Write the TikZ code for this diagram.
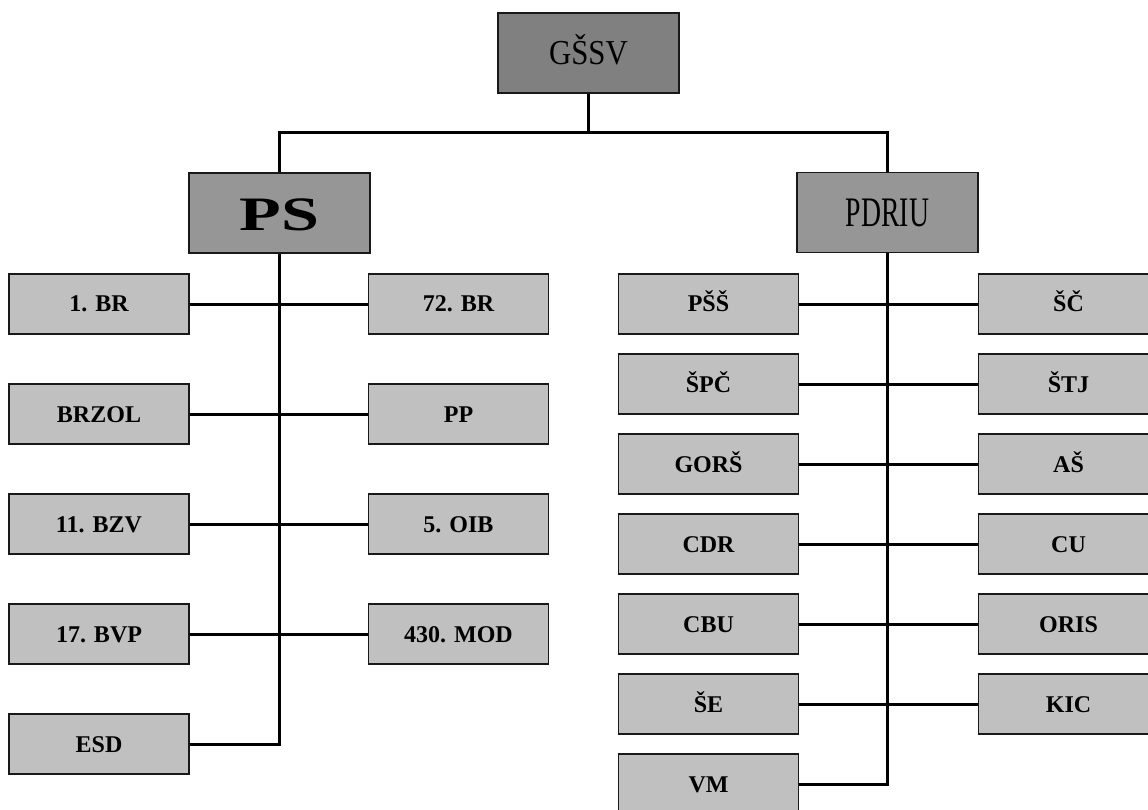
\documentclass[tikz,border=0pt]{standalone}
\usepackage{fontspec}
\setmainfont{Liberation Serif}
\newfontfamily\topfont[FakeStretch=0.88]{Liberation Serif}
\newfontfamily\pdfont[FakeStretch=0.66]{Liberation Serif}
\newfontfamily\psfont[FakeStretch=1.42]{Liberation Serif}
\definecolor{topgray}{RGB}{128,128,128}
\definecolor{midgray}{RGB}{150,150,150}
\definecolor{lightgray}{RGB}{192,192,192}
\definecolor{edge}{RGB}{25,25,25}
\begin{document}
\begin{tikzpicture}[x=1pt,y=-1pt,
  box/.style={draw=edge,line width=1.8pt,rectangle,inner sep=0pt,anchor=center,text depth=0pt},
  topbox/.style={box,fill=topgray,minimum width=181pt,minimum height=80pt},
  midbox/.style={box,fill=midgray,minimum width=181pt,minimum height=80pt},
  unitbox/.style={box,fill=lightgray,minimum width=180pt,minimum height=60pt,text height=16pt,font=\fontsize{24}{28}\selectfont\bfseries},
  link/.style={draw=black,line width=3pt}]
\useasboundingbox (0,0) rectangle (1148,810);
\clip (0,0) rectangle (1148,810);
% top
\node[topbox,text height=23pt,font=\fontsize{35}{40}\selectfont\topfont] (gssv) at (588.5,53) {GŠSV};
\node[midbox,text height=36pt,font=\fontsize{48}{52}\selectfont\psfont\bfseries] (ps) at (279.5,213) {PS};
\node[midbox,text height=28pt,font=\fontsize{42}{46}\selectfont\pdfont] (pdriu) at (887.5,212.5) {PDRIU};
% left group
\node[unitbox] (l1) at (99,304) {1. BR};
\node[unitbox] (l2) at (99,414) {BRZOL};
\node[unitbox] (l3) at (99,524) {11. BZV};
\node[unitbox] (l4) at (99,634) {17. BVP};
\node[unitbox] (l5) at (99,744) {ESD};
\node[unitbox] (r1) at (458.5,304) {72. BR};
\node[unitbox] (r2) at (458.5,414) {PP};
\node[unitbox] (r3) at (458.5,524) {5. OIB};
\node[unitbox] (r4) at (458.5,634) {430. MOD};
% right group
\node[unitbox] (a1) at (708.5,304) {PŠŠ};
\node[unitbox] (a2) at (708.5,384) {ŠPČ};
\node[unitbox] (a3) at (708.5,464) {GORŠ};
\node[unitbox] (a4) at (708.5,544) {CDR};
\node[unitbox] (a5) at (708.5,624) {CBU};
\node[unitbox] (a6) at (708.5,704) {ŠE};
\node[unitbox] (a7) at (708.5,784) {VM};
\node[unitbox] (b1) at (1068.5,304) {ŠČ};
\node[unitbox] (b2) at (1068.5,384) {ŠTJ};
\node[unitbox] (b3) at (1068.5,464) {AŠ};
\node[unitbox] (b4) at (1068.5,544) {CU};
\node[unitbox] (b5) at (1068.5,624) {ORIS};
\node[unitbox] (b6) at (1068.5,704) {KIC};
% connectors
\coordinate (j) at (588.5,133);
\draw[link] (gssv.south) -- (j);
\draw[link] (ps.north) |- (j) -| (pdriu.north);
\draw[link] (ps.south) |- (l5.east);
\draw[link] (pdriu.south) |- (a7.east);
\foreach \i in {1,2,3,4} {\draw[link] (l\i.east) -- (r\i.west);}
\foreach \i in {1,2,3,4,5,6} {\draw[link] (a\i.east) -- (b\i.west);}
\end{tikzpicture}
\end{document}
